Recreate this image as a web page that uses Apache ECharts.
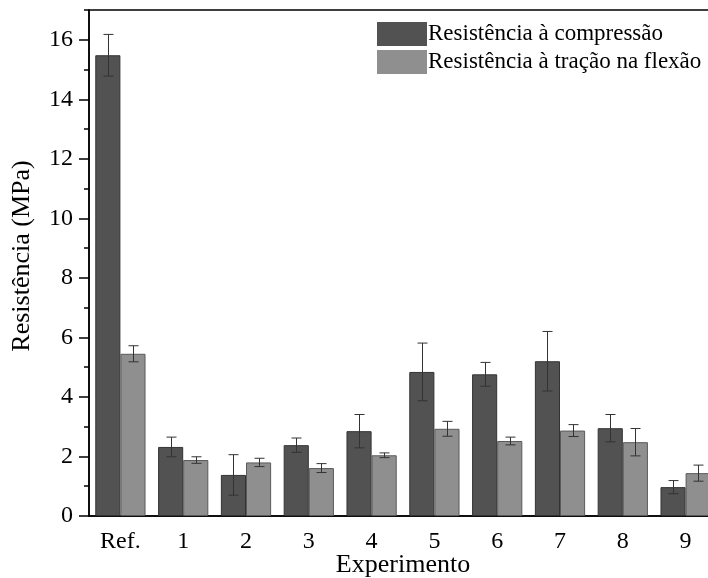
<!DOCTYPE html>
<html>
<head>
<meta charset="utf-8">
<script src="https://cdn.jsdelivr.net/npm/echarts@6/dist/echarts.min.js"></script>
<style>html,body{margin:0;padding:0;background:#fff;}#c{width:708px;height:578px;}</style>
</head>
<body>
<div id="c"></div>
<script>
const categories = ['Ref.', '1', '2', '3', '4', '5', '6', '7', '8', '9'];
const compValues = [15.48, 2.32, 1.38, 2.38, 2.85, 4.84, 4.76, 5.20, 2.95, 0.97];
const compErrors = [0.70, 0.33, 0.68, 0.24, 0.56, 0.97, 0.40, 1.00, 0.46, 0.22];
const tracValues = [5.45, 1.88, 1.80, 1.61, 2.04, 2.93, 2.52, 2.87, 2.48, 1.44];
const tracErrors = [0.27, 0.11, 0.14, 0.15, 0.08, 0.25, 0.13, 0.20, 0.46, 0.27];
const yMajorTicks = [0, 2, 4, 6, 8, 10, 12, 14, 16];
const yMinorTicks = [1, 3, 5, 7, 9, 11, 13, 15, 17];
const seriesNames = ['Resistência à compressão', 'Resistência à tração na flexão'];

const FONT = '"Liberation Serif", "Times New Roman", serif';
const BAR_FRAC = 0.4;

function errData(vals, errs) {
  return vals.map((v, i) => [i, v - errs[i], v + errs[i]]);
}
function errRender(side) {
  return function (params, api) {
    const idx = api.value(0);
    const lo = api.coord([idx, api.value(1)]);
    const hi = api.coord([idx, api.value(2)]);
    const bw = api.size([1, 0])[0] * BAR_FRAC;
    const x = Math.round(lo[0] + side * bw / 2) + 0.5;
    const cap = 5;
    const st = { stroke: '#333', lineWidth: 1 };
    return {
      type: 'group',
      children: [
        { type: 'line', shape: { x1: x, y1: hi[1], x2: x, y2: lo[1] }, style: st },
        { type: 'line', shape: { x1: x - cap, y1: hi[1], x2: x + cap, y2: hi[1] }, style: st },
        { type: 'line', shape: { x1: x - cap, y1: lo[1], x2: x + cap, y2: lo[1] }, style: st }
      ]
    };
  };
}

const chart = echarts.init(document.getElementById('c'), null, { renderer: 'canvas' });
chart.setOption({
  animation: false,
  backgroundColor: '#fff',
  grid: {
    left: 89, top: 10, width: 628, height: 506, outerBoundsMode: 'none', containLabel: false,
    show: true, borderColor: '#000', borderWidth: 1.5, backgroundColor: 'transparent'
  },
  legend: {
    orient: 'vertical', left: 377, top: 22, padding: 0, itemWidth: 50, itemHeight: 24, itemGap: 4,
    icon: 'rect',
    itemStyle: { borderWidth: 0 },
    textStyle: { fontFamily: FONT, fontSize: 23, color: '#000', padding: [0, 0, 0, -4] },
    data: seriesNames
  },
  xAxis: [
    {
      type: 'category', data: categories, position: 'bottom',
      name: 'Experimento', nameLocation: 'middle', nameGap: 36, nameMoveOverlap: false,
      nameTextStyle: { fontFamily: FONT, fontSize: 26, color: '#000' },
      axisLine: { lineStyle: { color: '#000', width: 1.5 } },
      axisTick: { alignWithLabel: true, length: 9, lineStyle: { color: '#000', width: 1.5 } },
      axisLabel: { fontFamily: FONT, fontSize: 24, color: '#000', margin: 14 },
      splitLine: { show: false }
    },
    {
      type: 'category', data: categories, position: 'bottom',
      axisLine: { show: false },
      axisTick: { length: 5, lineStyle: { color: '#000', width: 1.5 } },
      axisLabel: { show: false },
      splitLine: { show: false }
    }
  ],
  yAxis: [
    {
      type: 'value', min: 0, max: 17, position: 'left',
      name: 'Resistência (MPa)', nameLocation: 'middle', nameGap: 54, nameMoveOverlap: false,
      nameTextStyle: { fontFamily: FONT, fontSize: 26, color: '#000', padding: [0, 0, 0, 14] },
      axisLine: { show: true, lineStyle: { color: '#000', width: 1.5 } },
      axisTick: { show: true, length: 10, customValues: yMajorTicks, lineStyle: { color: '#000', width: 1.5 } },
      axisLabel: { fontFamily: FONT, fontSize: 24, color: '#000', margin: 16, customValues: yMajorTicks },
      splitLine: { show: false }
    },
    {
      type: 'value', min: 0, max: 17, position: 'left',
      axisLine: { show: false },
      axisTick: { show: true, length: 5, customValues: yMinorTicks, lineStyle: { color: '#000', width: 1.5 } },
      axisLabel: { show: false },
      splitLine: { show: false }
    }
  ],
  series: [
    {
      name: seriesNames[0], type: 'bar', data: compValues, barWidth: '40%', barGap: '0%',
      itemStyle: { color: '#525252', borderColor: '#333', borderWidth: 1 }
    },
    {
      name: seriesNames[1], type: 'bar', data: tracValues, barWidth: '40%', barGap: '0%',
      itemStyle: { color: '#8f8f8f', borderColor: '#5a5a5a', borderWidth: 1 }
    },
    {
      type: 'custom', renderItem: errRender(-1), data: errData(compValues, compErrors),
      encode: { x: 0, y: [1, 2] }, z: 5, silent: true
    },
    {
      type: 'custom', renderItem: errRender(1), data: errData(tracValues, tracErrors),
      encode: { x: 0, y: [1, 2] }, z: 5, silent: true
    }
  ]
});
</script>
</body>
</html>
